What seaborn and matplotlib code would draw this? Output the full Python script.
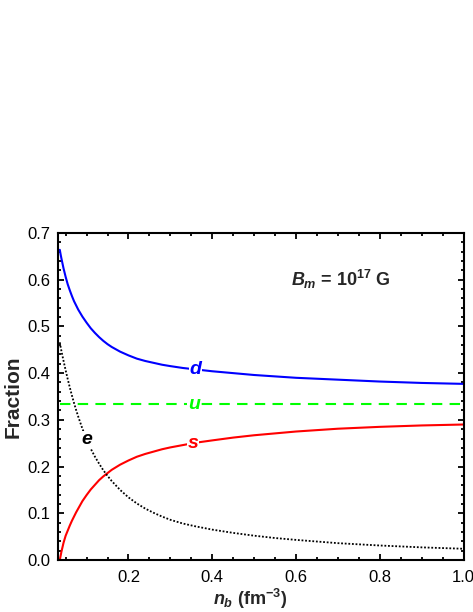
import matplotlib
matplotlib.use("Agg")
import matplotlib.pyplot as plt
import seaborn as sns
import pandas as pd
from matplotlib.ticker import MultipleLocator, FixedLocator

# ---- data ----
n_b = [0.036, 0.038, 0.040, 0.045, 0.050, 0.055, 0.060, 0.065, 0.070, 0.075, 0.080,
       0.090, 0.100, 0.110, 0.120, 0.130, 0.140, 0.150, 0.160, 0.180, 0.200, 0.220,
       0.240, 0.260, 0.280, 0.300, 0.330, 0.360, 0.400, 0.450, 0.500, 0.550, 0.600,
       0.700, 0.800, 0.900, 1.000]
frac_d = [0.664, 0.654, 0.645, 0.624, 0.606, 0.590, 0.577, 0.565, 0.554, 0.545, 0.536,
          0.521, 0.508, 0.496, 0.486, 0.477, 0.469, 0.462, 0.456, 0.446, 0.438, 0.431,
          0.426, 0.422, 0.418, 0.415, 0.411, 0.408, 0.404, 0.400, 0.396, 0.393, 0.390,
          0.386, 0.382, 0.379, 0.377]
frac_u = [1/3] * len(n_b)
frac_s = [0.000, 0.009, 0.018, 0.037, 0.052, 0.063, 0.074, 0.084, 0.093, 0.102, 0.110,
          0.126, 0.139, 0.151, 0.161, 0.171, 0.179, 0.186, 0.193, 0.204, 0.213, 0.221,
          0.227, 0.232, 0.237, 0.241, 0.246, 0.251, 0.256, 0.262, 0.267, 0.271, 0.275,
          0.281, 0.285, 0.288, 0.290]
frac_e = [0.466, 0.456, 0.447, 0.426, 0.406, 0.387, 0.369, 0.352, 0.336, 0.321, 0.307,
          0.281, 0.258, 0.238, 0.221, 0.206, 0.192, 0.180, 0.169, 0.150, 0.134, 0.121,
          0.110, 0.101, 0.093, 0.086, 0.078, 0.072, 0.065, 0.058, 0.052, 0.047, 0.043,
          0.036, 0.031, 0.027, 0.024]

series_names = ["d", "u", "s", "e"]
series_colors = {"d": "#0000ff", "u": "#00ff00", "s": "#ff0000", "e": "#000000"}
label_pos = {"d": (0.360, 0.408), "u": (0.356, 0.333), "s": (0.354, 0.250), "e": (0.100, 0.257)}

x_ticks = [0.2, 0.4, 0.6, 0.8, 1.0]
y_ticks = [0.0, 0.1, 0.2, 0.3, 0.4, 0.5, 0.6, 0.7]

df = pd.DataFrame({"n_b": n_b, "d": frac_d, "u": frac_u, "s": frac_s, "e": frac_e})

sns.set_theme(style="ticks")
plt.rcParams["font.family"] = ["Liberation Sans", "DejaVu Sans"]
plt.rcParams["mathtext.fontset"] = "custom"
plt.rcParams["mathtext.rm"] = "Liberation Sans:bold"
plt.rcParams["mathtext.bf"] = "Liberation Sans:bold"
plt.rcParams["mathtext.it"] = "Liberation Sans:bold:italic"
plt.rcParams["mathtext.default"] = "it"

fig = plt.figure(figsize=(4.73, 6.12), dpi=100)
ax = fig.add_axes([0.1233, 0.0850, 0.8567, 0.5343])

lw = 1.5
sns.lineplot(data=df, x="n_b", y="d", ax=ax, color=series_colors["d"], lw=lw, estimator=None, sort=False)
sns.lineplot(data=df, x="n_b", y="u", ax=ax, color=series_colors["u"], lw=lw, estimator=None,
             sort=False, linestyle=(0, (5, 3.5)))
sns.lineplot(data=df, x="n_b", y="s", ax=ax, color=series_colors["s"], lw=lw, estimator=None, sort=False)
sns.lineplot(data=df, x="n_b", y="e", ax=ax, color=series_colors["e"], lw=1.3, estimator=None,
             sort=False, linestyle=(0, (1, 1)))

for name in series_names:
    x, y = label_pos[name]
    ax.text(x, y, name, color=series_colors[name], fontsize=14, fontweight="bold",
            fontstyle="italic", ha="center", va="center",
            bbox=dict(facecolor="white", edgecolor="none", pad=0.3))

ax.text(0.589, 0.600, r"$B_m$ = 10$^{17}$ G", fontsize=13, fontweight="bold",
        ha="left", va="center")

ax.set_xlim(0.0325, 1.0)
ax.set_ylim(0.0, 0.7)
ax.xaxis.set_major_locator(FixedLocator(x_ticks))
ax.xaxis.set_minor_locator(MultipleLocator(0.05))
ax.yaxis.set_major_locator(FixedLocator(y_ticks))
ax.yaxis.set_minor_locator(MultipleLocator(0.02))
ax.set_xticklabels([f"{v:.1f}" for v in x_ticks])
ax.set_yticklabels([f"{v:.1f}" for v in y_ticks])

ax.tick_params(axis="both", which="both", direction="in", top=True, right=True,
               labelsize=12, width=1.3, colors="black")
ax.tick_params(axis="x", which="both", pad=6.9)
ax.tick_params(axis="y", which="both", pad=5.5)
ax.tick_params(which="major", length=4.5)
ax.tick_params(which="minor", length=2.5)
for sp in ax.spines.values():
    sp.set_visible(True)
    sp.set_linewidth(1.5)
    sp.set_color("black")

ax.set_xlabel(r"$n_b$ (fm$^{-3}$)", fontsize=13, fontweight="bold")
ax.set_ylabel("Fraction", fontsize=15, fontweight="bold")
ax.xaxis.set_label_coords(0.473, -0.082)
ax.yaxis.set_label_coords(-0.087, 0.5)

fig.savefig("out.png", dpi=100, facecolor="white")
